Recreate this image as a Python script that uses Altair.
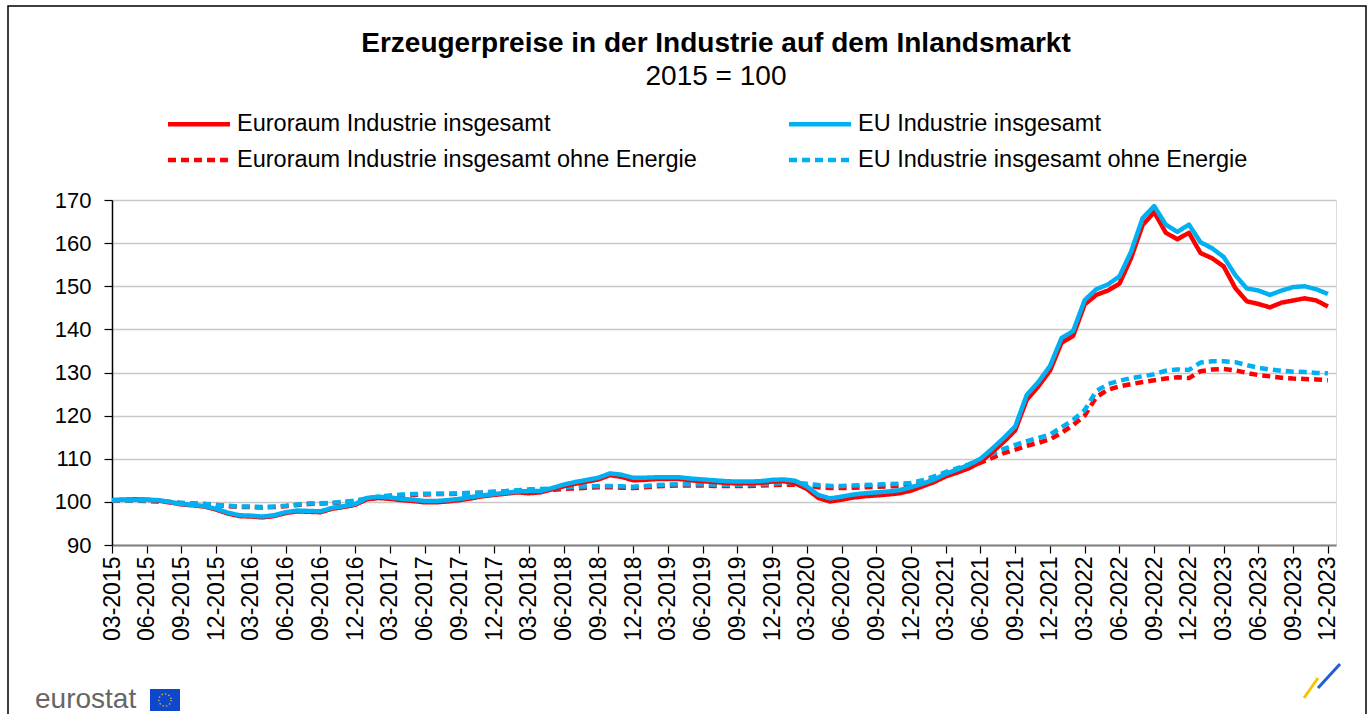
import altair as alt
import pandas as pd

# ---------------- data ----------------
months = [f"{m:02d}-{y}" for y in range(2015, 2024) for m in range(1, 13)][2:]  # 03-2015 .. 12-2023

series_names = [
    "Euroraum Industrie insgesamt",
    "EU Industrie insgesamt",
    "Euroraum Industrie insgesamt ohne Energie",
    "EU Industrie insgesamt ohne Energie",
]

ea_total = [
    100.4, 100.5, 100.6, 100.5, 100.3, 99.9, 99.4, 99.2, 98.9, 98.2,
    97.3, 96.7, 96.6, 96.4, 96.7, 97.4, 97.8, 97.7, 97.6, 98.4, 98.8, 99.3,
    100.6, 100.9, 100.7, 100.4, 100.2, 99.9, 99.9, 100.1, 100.4, 100.8, 101.3, 101.6,
    101.9, 102.2, 102.0, 102.2, 102.9, 103.6, 104.2, 104.7, 105.2, 106.2, 105.8, 105.0,
    105.1, 105.3, 105.3, 105.3, 105.0, 104.8, 104.6, 104.4, 104.3, 104.3, 104.4, 104.7,
    104.8, 104.3, 103.0, 100.9, 100.1, 100.5, 101.0, 101.3, 101.5, 101.7, 102.0, 102.6,
    103.6, 104.6, 105.9, 106.8, 107.8, 109.2, 111.5, 113.9, 116.6, 123.7, 126.8, 130.4,
    136.9, 138.5, 145.8, 148.0, 149.0, 150.6, 156.5, 164.2, 167.2, 162.4, 160.9, 162.4,
    157.7, 156.5, 154.6, 149.6, 146.5, 145.9, 145.1, 146.2, 146.7, 147.2, 146.7, 145.3,
]

eu_total = [
    100.4, 100.5, 100.5, 100.5, 100.4, 100.0, 99.5, 99.3, 99.0, 98.4,
    97.5, 96.9, 96.8, 96.6, 96.9, 97.6, 98.0, 97.9, 97.8, 98.6, 99.0, 99.5,
    100.9, 101.2, 101.0, 100.7, 100.5, 100.2, 100.2, 100.4, 100.7, 101.1, 101.5, 101.8,
    102.1, 102.4, 102.5, 102.5, 103.2, 104.0, 104.6, 105.1, 105.6, 106.6, 106.3, 105.6,
    105.6, 105.7, 105.7, 105.7, 105.4, 105.2, 105.0, 104.8, 104.7, 104.7, 104.8, 105.1,
    105.2, 104.9, 103.6, 101.6, 100.8, 101.2, 101.7, 102.0, 102.2, 102.4, 102.7, 103.4,
    104.2, 105.2, 106.5, 107.5, 108.6, 110.0, 112.3, 114.8, 117.5, 124.8, 127.8, 131.5,
    138.0, 139.6, 146.8, 149.3, 150.4, 152.3, 158.0, 165.8, 168.6, 164.3, 162.6, 164.3,
    160.2, 158.8, 156.8, 152.6, 149.5, 149.0, 148.0, 149.0, 149.8, 150.0, 149.3, 148.2,
]

ea_ex_energy = [
    100.3, 100.3, 100.3, 100.2, 100.1, 99.9, 99.7, 99.6, 99.5, 99.3,
    99.0, 98.8, 98.8, 98.7, 98.8, 99.0, 99.3, 99.5, 99.6, 99.7, 99.9, 100.2,
    100.6, 101.0, 101.3, 101.5, 101.6, 101.7, 101.8, 101.8, 101.9, 102.0, 102.1, 102.2,
    102.3, 102.5, 102.6, 102.7, 102.8, 103.0, 103.1, 103.3, 103.4, 103.4, 103.3, 103.2,
    103.4, 103.6, 103.7, 103.8, 103.8, 103.8, 103.7, 103.7, 103.7, 103.7, 103.8, 103.9,
    104.0, 104.0, 103.8, 103.4, 103.2, 103.2, 103.3, 103.4, 103.5, 103.6, 103.7, 103.9,
    104.4, 105.3, 106.2, 107.1, 108.0, 109.1, 110.2, 111.3, 112.1, 113.0, 113.7, 114.5,
    116.0, 117.8, 120.0, 124.3, 126.0, 126.8, 127.3, 127.8, 128.2, 128.6, 128.9, 128.7,
    130.3, 130.7, 130.8, 130.5, 129.9, 129.4, 129.1, 128.8, 128.6, 128.5, 128.4, 128.2,
]

eu_ex_energy = [
    100.3, 100.3, 100.3, 100.3, 100.2, 100.0, 99.8, 99.6, 99.5, 99.3,
    99.1, 98.9, 98.9, 98.8, 98.9, 99.1, 99.4, 99.6, 99.7, 99.8, 100.0, 100.3,
    100.8, 101.2, 101.5, 101.7, 101.8, 101.9, 101.9, 101.9, 102.0, 102.1, 102.2, 102.4,
    102.5, 102.7, 102.9, 103.0, 103.1, 103.3, 103.5, 103.6, 103.7, 103.7, 103.6, 103.5,
    103.7, 103.9, 104.0, 104.1, 104.1, 104.1, 104.0, 104.0, 104.0, 104.0, 104.1, 104.2,
    104.4, 104.4, 104.2, 103.9, 103.7, 103.7, 103.8, 103.9, 104.0, 104.1, 104.2, 104.4,
    105.0, 105.9, 106.9, 107.8, 108.7, 109.9, 111.1, 112.3, 113.2, 114.1, 114.8, 115.6,
    117.3, 119.0, 121.3, 125.7, 127.3, 128.1, 128.7, 129.1, 129.6, 130.4, 130.7, 130.6,
    132.3, 132.6, 132.6, 132.4, 131.7, 131.1, 130.7, 130.4, 130.2, 130.1, 129.9, 129.8,
]

tick_labels = months[::3]  # 03-2015, 06-2015, ... 12-2023
y_ticks = [90, 100, 110, 120, 130, 140, 150, 160, 170]

# ---------------- build table ----------------
values_by_series = dict(zip(series_names, [ea_total, eu_total, ea_ex_energy, eu_ex_energy]))
rows = []
for name, vals in values_by_series.items():
    for i, (m, v) in enumerate(zip(months, vals)):
        rows.append({"idx": i, "month": m, "series": name, "value": v})
df = pd.DataFrame(rows)

RED = "#FF0000"
BLUE = "#00B0F0"
FONT = "Liberation Sans"

label_js = "[" + ",".join(f"'{t}'" for t in tick_labels) + "]"

x_enc = alt.X(
    "idx:Q",
    scale=alt.Scale(domain=[0, 105.7], nice=False, zero=False),
    axis=alt.Axis(
        values=list(range(0, len(months), 3)),
        labelExpr=f"{label_js}[round(datum.value / 3)]",
        labelAngle=-90,
        title=None,
        grid=False,
        domainColor="#808080",
        domainWidth=2,
        tickColor="#000000",
        tickSize=8,
        tickWidth=1.2,
        labelFontSize=23,
        labelFont=FONT,
        labelColor="#000000",
        labelPadding=3,
        labelOverlap=False,
        labelBound=False,
        labelFlush=False,
    ),
)
y_enc = alt.Y(
    "value:Q",
    scale=alt.Scale(domain=[90, 170], nice=False, zero=False),
    axis=alt.Axis(
        values=y_ticks,
        title=None,
        grid=True,
        gridColor="#C8C8C8",
        gridWidth=1.5,
        domainColor="#000000",
        domainWidth=1.5,
        tickColor="#000000",
        tickSize=8,
        tickWidth=1.2,
        labelFontSize=22,
        labelFont=FONT,
        labelColor="#000000",
        labelPadding=13,
    ),
)
legend = alt.Legend(
    title=None,
    orient="none",
    direction="horizontal",
    legendX=74,
    legendY=-89,
    columns=2,
    columnPadding=83,
    rowPadding=11,
    padding=0,
    symbolType="M-3,0H3",
    symbolSize=427,
    symbolStrokeWidth=4.5,
    labelFontSize=23.5,
    labelFont=FONT,
    labelColor="#000000",
    labelLimit=900,
    labelOffset=25,
)
color_enc = alt.Color(
    "series:N",
    scale=alt.Scale(domain=series_names, range=[RED, BLUE, RED, BLUE]),
    legend=legend,
)
dash_enc = alt.StrokeDash(
    "series:N",
    scale=alt.Scale(domain=series_names, range=[[1, 0], [1, 0], [8, 5], [8, 5]]),
    legend=legend,
)
width_enc = alt.StrokeWidth(
    "series:N",
    scale=alt.Scale(domain=series_names, range=[4.5, 4.5, 3.5, 3.5]),
    legend=None,
)

base = alt.Chart(df)
draw_order = [series_names[2], series_names[3], series_names[0], series_names[1]]
line_layers = [
    base.transform_filter(alt.datum.series == s)
    .mark_line(strokeJoin="round")
    .encode(x=x_enc, y=y_enc, color=color_enc, strokeDash=dash_enc, strokeWidth=width_enc)
    for s in draw_order
]

one = alt.Chart(pd.DataFrame({"k": [0]}))

frame = one.mark_rect(fillOpacity=0, stroke="#000000", strokeWidth=1.5).encode(
    x=alt.value(-104), x2=alt.value(1254), y=alt.value(-194), y2=alt.value(530)
)
logo_text = one.mark_text(
    text="eurostat", font=FONT, fontSize=28, color="#666666", align="left", baseline="alphabetic"
).encode(x=alt.value(-77), y=alt.value(508))
flag = one.mark_rect(fill="#0E47CB").encode(
    x=alt.value(38), x2=alt.value(68), y=alt.value(489), y2=alt.value(511)
)
stars = one.mark_point(
    shape="circle", filled=False, size=150, stroke="#FFDD00", strokeWidth=1.5, strokeDash=[1.5, 2]
).encode(x=alt.value(53), y=alt.value(500))
mark1 = one.mark_rule(stroke="#F5C400", strokeWidth=3).encode(
    x=alt.value(1192), y=alt.value(498), x2=alt.value(1206), y2=alt.value(478)
)
mark2 = one.mark_rule(stroke="#1E5FD9", strokeWidth=3).encode(
    x=alt.value(1206), y=alt.value(488), x2=alt.value(1228), y2=alt.value(464)
)

chart = (
    alt.layer(*line_layers, frame, logo_text, flag, stars, mark1, mark2)
    .properties(
        width=1224,
        height=345,
        autosize=alt.AutoSizeParams(type="none"),
        padding={"left": 112, "top": 200, "right": 36, "bottom": 169},
        title=alt.TitleParams(
            text="Erzeugerpreise in der Industrie auf dem Inlandsmarkt",
            subtitle="2015 = 100",
            font=FONT,
            fontSize=28,
            fontWeight="bold",
            color="#000000",
            subtitleFont=FONT,
            subtitleFontSize=28,
            subtitleColor="#000000",
            subtitlePadding=5,
            anchor="middle",
            dx=-8,
            offset=-86,
        ),
    )
    .configure_view(stroke=None)
    .configure(background="#FFFFFF")
)

chart.save("out.html", embed_options={"renderer": "svg", "actions": False})
